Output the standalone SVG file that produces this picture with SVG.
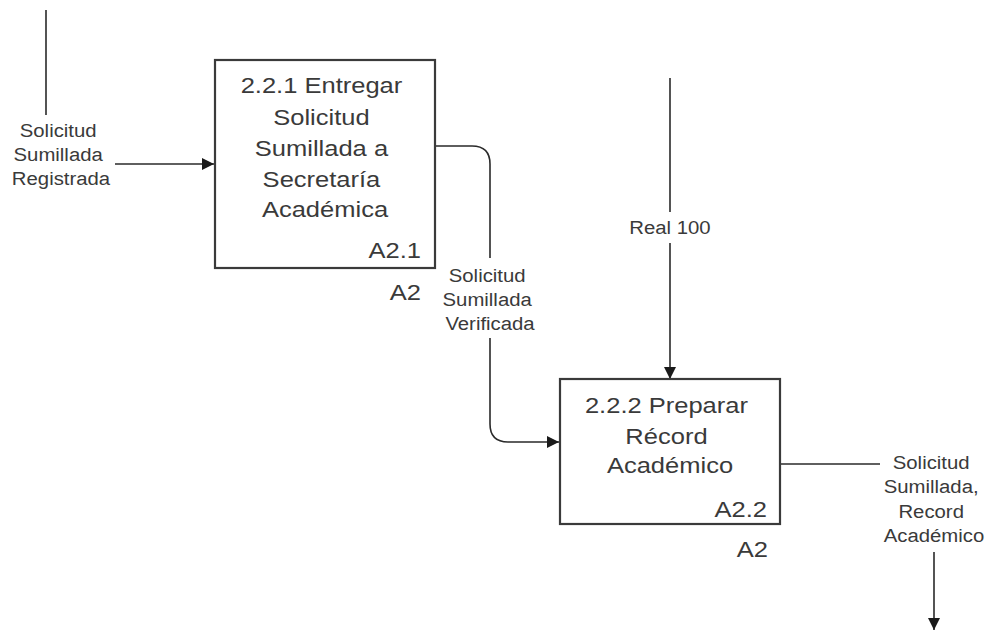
<svg xmlns="http://www.w3.org/2000/svg" width="986" height="631" viewBox="0 0 986 631">
  <defs>
    <marker id="arrow" markerUnits="userSpaceOnUse" markerWidth="13" markerHeight="12" refX="12" refY="6" orient="auto">
      <path d="M0,0 L12,6 L0,12 z" fill="#1a1a1a"/>
    </marker>
  </defs>
  <style>
    .box { fill: #ffffff; stroke: #3a3a3a; stroke-width: 2.2; }
    .wire { fill: none; stroke: #2a2a2a; stroke-width: 1.6; }
    .title { font-family: "Liberation Sans", Arial, sans-serif; font-size: 22px; fill: #3a3a3a; }
    .label { font-family: "Liberation Sans", Arial, sans-serif; font-size: 18px; fill: #3a3a3a; }
  </style>
  <rect width="986" height="631" fill="#ffffff"/>

  <!-- connectors -->
  <g id="connectors">
    <path class="wire" d="M46,10 V115"/>
    <path class="wire" d="M115,164 H214" marker-end="url(#arrow)"/>
    <path class="wire" d="M435,146 H472 Q490,146 490,164 V258"/>
    <path class="wire" d="M490,338 V424 Q490,442 508,442 H559" marker-end="url(#arrow)"/>
    <path class="wire" d="M670,78 V212"/>
    <path class="wire" d="M670,243 V379" marker-end="url(#arrow)"/>
    <path class="wire" d="M780,464 H880"/>
    <path class="wire" d="M934,552 V630" marker-end="url(#arrow)"/>
  </g>

  <!-- arrow labels -->
  <g id="label-registrada" transform="translate(61,0) scale(1.13,1)">
    <text class="label" text-anchor="middle">
      <tspan x="0" y="137">Solicitud</tspan>
      <tspan x="0" y="161">Sumillada</tspan>
      <tspan x="0" y="185">Registrada</tspan>
    </text>
  </g>
  <g id="label-verificada" transform="translate(490,0) scale(1.13,1)">
    <text class="label" text-anchor="middle">
      <tspan x="0" y="282">Solicitud</tspan>
      <tspan x="0" y="306">Sumillada</tspan>
      <tspan x="0" y="330">Verificada</tspan>
    </text>
  </g>
  <g id="label-real" transform="translate(670,0) scale(1.13,1)">
    <text class="label" text-anchor="middle"><tspan x="0" y="234">Real 100</tspan></text>
  </g>
  <g id="label-salida" transform="translate(934,0) scale(1.13,1)">
    <text class="label" text-anchor="middle">
      <tspan x="0" y="469">Solicitud</tspan>
      <tspan x="0" y="493">Sumillada,</tspan>
      <tspan x="0" y="518">Record</tspan>
      <tspan x="0" y="542">Académico</tspan>
    </text>
  </g>

  <!-- activity A2.1 -->
  <g id="node-a21">
    <rect class="box" x="215" y="60" width="220" height="208"/>
    <g transform="translate(325,0) scale(1.16,1)">
      <text class="title" text-anchor="middle">
        <tspan x="0" y="93">2.2.1 Entregar</tspan>
        <tspan x="0" y="125">Solicitud</tspan>
        <tspan x="0" y="156">Sumillada a</tspan>
        <tspan x="0" y="187">Secretaría</tspan>
        <tspan x="0" y="217">Académica</tspan>
      </text>
    </g>
    <g transform="translate(421,0) scale(1.16,1)">
      <text class="title" text-anchor="end"><tspan x="0" y="258">A2.1</tspan></text>
    </g>
    <g transform="translate(421,0) scale(1.16,1)">
      <text class="title" text-anchor="end"><tspan x="0" y="300">A2</tspan></text>
    </g>
  </g>

  <!-- activity A2.2 -->
  <g id="node-a22">
    <rect class="box" x="560" y="379" width="220" height="145"/>
    <g transform="translate(670,0) scale(1.16,1)">
      <text class="title" text-anchor="middle">
        <tspan x="0" y="413">2.2.2 Preparar</tspan>
        <tspan x="0" y="444">Récord</tspan>
        <tspan x="0" y="473">Académico</tspan>
      </text>
    </g>
    <g transform="translate(767,0) scale(1.16,1)">
      <text class="title" text-anchor="end"><tspan x="0" y="517">A2.2</tspan></text>
    </g>
    <g transform="translate(768,0) scale(1.16,1)">
      <text class="title" text-anchor="end"><tspan x="0" y="557">A2</tspan></text>
    </g>
  </g>
</svg>
